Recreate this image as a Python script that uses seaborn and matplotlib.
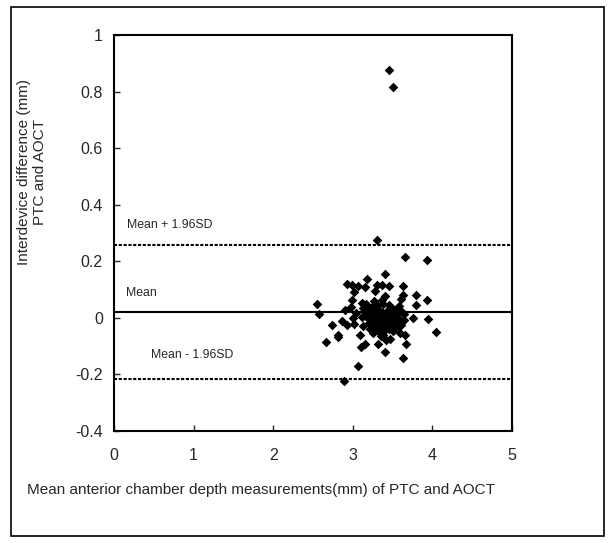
import matplotlib
matplotlib.use("Agg")
import matplotlib.pyplot as plt
import seaborn as sns
import pandas as pd
from matplotlib.patches import Rectangle

# Mean chamber depth (mm) and PTC - AOCT difference (mm)
mean_depth = [
    3.46, 3.50, 3.30, 3.66, 3.93, 3.40, 3.18, 2.93, 2.99, 3.06,
    3.16, 3.01, 3.30, 3.37, 3.45, 3.63, 3.28, 3.41, 3.63, 3.80,
    3.61, 3.93, 2.99, 3.11, 3.17, 2.55, 3.38, 3.46, 3.79, 3.58,
    2.98, 3.13, 3.25, 3.33, 3.50, 2.90, 3.61, 2.57, 3.04, 3.21,
    3.27, 3.38, 3.55, 3.64, 3.76, 3.95, 2.87, 3.00, 3.11, 3.17,
    3.23, 3.29, 3.36, 3.42, 3.49, 3.59, 3.65, 2.74, 2.93, 3.02,
    3.13, 3.20, 3.26, 3.33, 3.40, 3.47, 3.54, 3.61, 4.04, 2.82,
    2.82, 3.25, 3.32, 3.38, 3.50, 3.59, 3.66, 2.66, 3.16, 3.10,
    3.32, 3.42, 3.47, 3.67, 3.41, 3.63, 3.07, 2.89, 3.15, 3.24,
    3.31, 3.35, 3.44, 3.52, 3.28, 3.34, 3.39, 3.46, 3.22, 3.36,
    3.43, 3.30, 3.27, 3.37, 3.48, 3.56, 3.19, 3.35, 3.41, 3.45,
    3.53, 3.09, 3.26, 3.39, 3.57, 3.33, 3.29, 3.44, 3.24, 3.51,
]
difference = [
    0.876, 0.815, 0.274, 0.214, 0.206, 0.156, 0.139, 0.119, 0.115, 0.114,
    0.108, 0.092, 0.118, 0.118, 0.112, 0.112, 0.096, 0.076, 0.082, 0.082,
    0.067, 0.064, 0.065, 0.053, 0.049, 0.049, 0.049, 0.045, 0.045, 0.041,
    0.039, 0.035, 0.035, 0.029, 0.033, 0.029, 0.026, 0.012, 0.018, 0.024,
    0.018, 0.018, 0.018, 0.012, 0.000, -0.004, -0.012, 0.000, 0.002, 0.006,
    0.000, -0.006, 0.000, -0.006, 0.000, -0.006, -0.006, -0.026, -0.026, -0.020,
    -0.030, -0.018, -0.030, -0.021, -0.026, -0.021, -0.030, -0.024, -0.051, -0.061,
    -0.066, -0.052, -0.047, -0.059, -0.047, -0.053, -0.059, -0.086, -0.091, -0.104,
    -0.091, -0.080, -0.073, -0.094, -0.120, -0.141, -0.171, -0.224, 0.010, 0.008,
    0.015, -0.012, 0.005, -0.015, -0.038, -0.042, -0.035, -0.040, -0.040, -0.065,
    0.020, 0.045, 0.060, 0.062, 0.025, 0.002, 0.000, 0.010, -0.015, 0.030,
    0.010, -0.060, -0.012, -0.048, -0.030, 0.008, 0.025, -0.010, 0.040, -0.040,
]

mean_diff = 0.020
upper_loa = 0.259
lower_loa = -0.215

df = pd.DataFrame({"depth": mean_depth, "diff": difference})

sns.set_style("white")
plt.rcParams["font.family"] = ["Liberation Sans", "DejaVu Sans"]

fig = plt.figure(figsize=(6.15, 5.43), dpi=100)
ax = fig.add_axes([0.1854, 0.2063, 0.647, 0.729])

sns.scatterplot(data=df, x="depth", y="diff", marker="D", s=24, color="black",
                edgecolor="black", linewidth=0, ax=ax, zorder=3)

ax.axhline(mean_diff, color="black", lw=1.5, zorder=2)
ax.axhline(upper_loa, color="black", lw=1.5, ls=(0, (1.5, 0.8)), zorder=2)
ax.axhline(lower_loa, color="black", lw=1.5, ls=(0, (1.5, 0.8)), zorder=2)

ax.text(0.16, 0.33, "Mean + 1.96SD", fontsize=8.8, va="center", ha="left")
ax.text(0.15, 0.088, "Mean", fontsize=8.8, va="center", ha="left")
ax.text(0.46, -0.133, "Mean - 1.96SD", fontsize=8.8, va="center", ha="left")

ax.set_xlim(0, 5)
ax.set_ylim(-0.4, 1)
ax.set_xticks([0, 1, 2, 3, 4, 5])
ax.set_xticklabels(["0", "1", "2", "3", "4", "5"])
ax.set_yticks([-0.4, -0.2, 0, 0.2, 0.4, 0.6, 0.8, 1])
ax.set_yticklabels(["-0.4", "-0.2", "0", "0.2", "0.4", "0.6", "0.8", "1"])
ax.tick_params(direction="in", length=4, width=1, labelsize=11.5,
               left=True, bottom=True)
ax.tick_params(axis="x", pad=12)
ax.tick_params(axis="y", pad=8)
for side in ax.spines.values():
    side.set_linewidth(1.5)
    side.set_color("black")
ax.set_xlabel("")
ax.set_ylabel("")

fig.text(0.052, 0.683, "Interdevice difference (mm)\nPTC and AOCT", fontsize=11,
         rotation=90, ha="center", va="center", multialignment="center")
fig.text(0.424, 0.098, "Mean anterior chamber depth measurements(mm) of PTC and AOCT",
         fontsize=11, ha="center", va="center")

# outer frame around the whole figure
fig.patches.append(Rectangle((0.018, 0.012), 0.964, 0.975, transform=fig.transFigure,
                             fill=False, edgecolor="black", lw=1.2))

fig.savefig("out.png", dpi=100)
